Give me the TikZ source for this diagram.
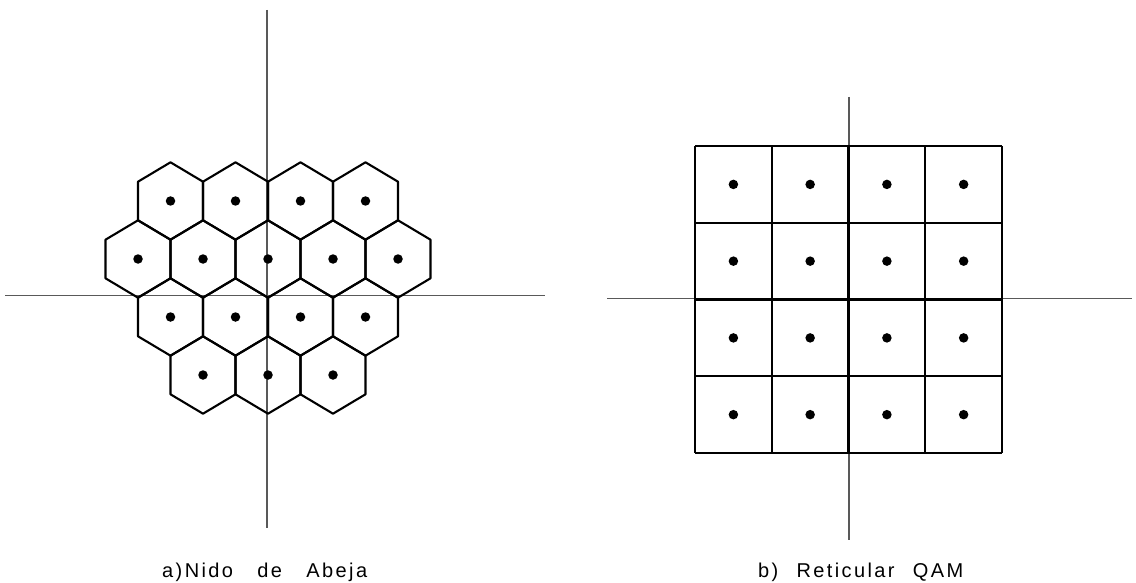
\documentclass[tikz,border=0pt]{standalone}
\usepackage{fontspec}
\setmainfont{Liberation Sans}
\begin{document}
\begin{tikzpicture}[x=1pt,y=-1pt,
  axis/.style={line width=1.1pt, draw=black!65},
  cell/.style={line width=2.1pt, line join=round},
  dot/.style={circle, fill=black, inner sep=0pt, minimum size=9.5pt},
  lbl/.style={font=\fontsize{20}{24}\selectfont\addfontfeature{LetterSpace=12}, inner sep=0pt, anchor=base west}]
\useasboundingbox (0,0) rectangle (1136,583);
\fill[white] (0,0) rectangle (1136,583);
% ---- left axes
\coordinate (aT) at (267,10);
\coordinate (aB) at (267,528);
\coordinate (aL) at (5,295.5);
\coordinate (aR) at (545,295.5);
\draw[axis] (aT) -- (aB);
\draw[axis] (aL) -- (aR);
% ---- hexagons
\newcommand\hexcell[2]{%
  \draw[cell] (#1,#2) +(0,-38.7) -- +(32.5,-19.3) -- +(32.5,19.3) -- +(0,38.7)
     -- +(-32.5,19.3) -- +(-32.5,-19.3) -- cycle;
  \node[dot] at (#1,#2) {};}
\foreach \x in {170.5,235.5,300.5,365.5} {\hexcell{\x}{201}}
\foreach \x in {138,203,268,333,398} {\hexcell{\x}{259}}
\foreach \x in {170.5,235.5,300.5,365.5} {\hexcell{\x}{317}}
\foreach \x in {203,268,333} {\hexcell{\x}{375}}
% ---- right axes
\coordinate (bT) at (849,97);
\coordinate (bB) at (849,540);
\coordinate (bL) at (607,298.5);
\coordinate (bR) at (1132,298.5);
\draw[axis] (bT) -- (bB);
\draw[axis] (bL) -- (bR);
% ---- square grid
\foreach \i in {0,...,4} {
  \draw[cell] ({695+76.75*\i},146) -- ({695+76.75*\i},453);
  \draw[cell] (695,{146+76.75*\i}) -- (1002,{146+76.75*\i});
}
\foreach \i in {0,...,3} {
  \foreach \j in {0,...,3} {
    \node[dot] at ({733.4+76.75*\i},{184.4+76.75*\j}) {};
  }
}
% ---- labels
\node[lbl] (la) at (162,577) {\makebox[205pt][s]{a)Nido de Abeja}};
\node[lbl] (lb) at (758,577) {\makebox[205pt][s]{b) Reticular QAM}};
\end{tikzpicture}
\end{document}
